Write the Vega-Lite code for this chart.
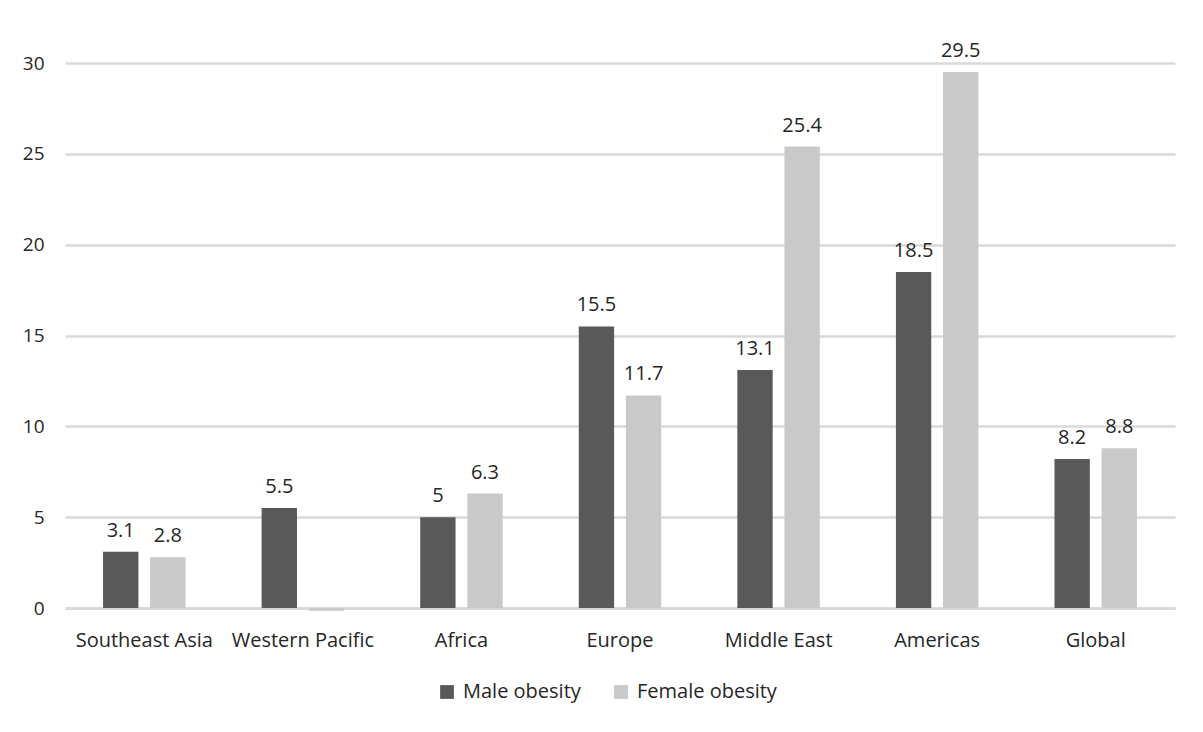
{
  "$schema": "https://vega.github.io/schema/vega-lite/v6.json",
  "autosize": "none",
  "width": 1110,
  "height": 545,
  "padding": {"left": 65, "top": 63, "right": 28, "bottom": 124},
  "background": "white",
  "config": {
    "view": {"stroke": null},
    "font": "Open Sans"
  },
  "data": {
    "values": [
      {"region": "Southeast Asia", "series": "Male obesity", "value": 3.1},
      {"region": "Southeast Asia", "series": "Female obesity", "value": 2.8},
      {"region": "Western Pacific", "series": "Male obesity", "value": 5.5},
      {"region": "Western Pacific", "series": "Female obesity", "value": -0.15},
      {"region": "Africa", "series": "Male obesity", "value": 5},
      {"region": "Africa", "series": "Female obesity", "value": 6.3},
      {"region": "Europe", "series": "Male obesity", "value": 15.5},
      {"region": "Europe", "series": "Female obesity", "value": 11.7},
      {"region": "Middle East", "series": "Male obesity", "value": 13.1},
      {"region": "Middle East", "series": "Female obesity", "value": 25.4},
      {"region": "Americas", "series": "Male obesity", "value": 18.5},
      {"region": "Americas", "series": "Female obesity", "value": 29.5},
      {"region": "Global", "series": "Male obesity", "value": 8.2},
      {"region": "Global", "series": "Female obesity", "value": 8.8}
    ]
  },
  "encoding": {
    "x": {
      "field": "region", "type": "nominal", "sort": null,
      "scale": {"paddingInner": 0.48, "paddingOuter": 0.24},
      "axis": {
        "title": null, "labelAngle": 0, "ticks": false, "domainColor": "#d9d9d9", "domainWidth": 2.5,
        "labelFontSize": 20, "labelColor": "#262626", "labelPadding": 22, "labelFont": "Open Sans"
      }
    },
    "xOffset": {
      "field": "series", "type": "nominal",
      "sort": ["Male obesity", "Female obesity"],
      "scale": {"paddingInner": 0.25}
    },
    "y": {
      "field": "value", "type": "quantitative",
      "scale": {"domain": [0, 30], "nice": false},
      "axis": {
        "title": null, "values": [0, 5, 10, 15, 20, 25, 30], "domain": false, "ticks": false,
        "gridColor": "#d9d9d9", "gridWidth": 2.5, "labelFontSize": 19, "labelColor": "#262626",
        "labelPadding": 21, "labelFont": "Open Sans"
      }
    }
  },
  "layer": [
    {
      "mark": {"type": "bar"},
      "encoding": {
        "color": {
          "field": "series", "type": "nominal",
          "sort": ["Male obesity", "Female obesity"],
          "scale": {"domain": ["Male obesity", "Female obesity"], "range": ["#595959", "#c9c9c9"]},
          "legend": {
            "title": null, "orient": "none", "direction": "horizontal",
            "legendX": 372, "legendY": 619,
            "symbolType": "square", "symbolSize": 190, "symbolStrokeWidth": 0,
            "labelFontSize": 20, "labelColor": "#262626", "columnPadding": 30, "labelOffset": 6,
            "labelFont": "Open Sans"
          }
        }
      }
    },
    {
      "transform": [{"filter": "datum.value > 0"}],
      "mark": {"type": "text", "baseline": "bottom", "dy": -11, "fontSize": 20, "color": "#262626", "font": "Open Sans"},
      "encoding": {
        "text": {"field": "value", "type": "quantitative"}
      }
    }
  ]
}
